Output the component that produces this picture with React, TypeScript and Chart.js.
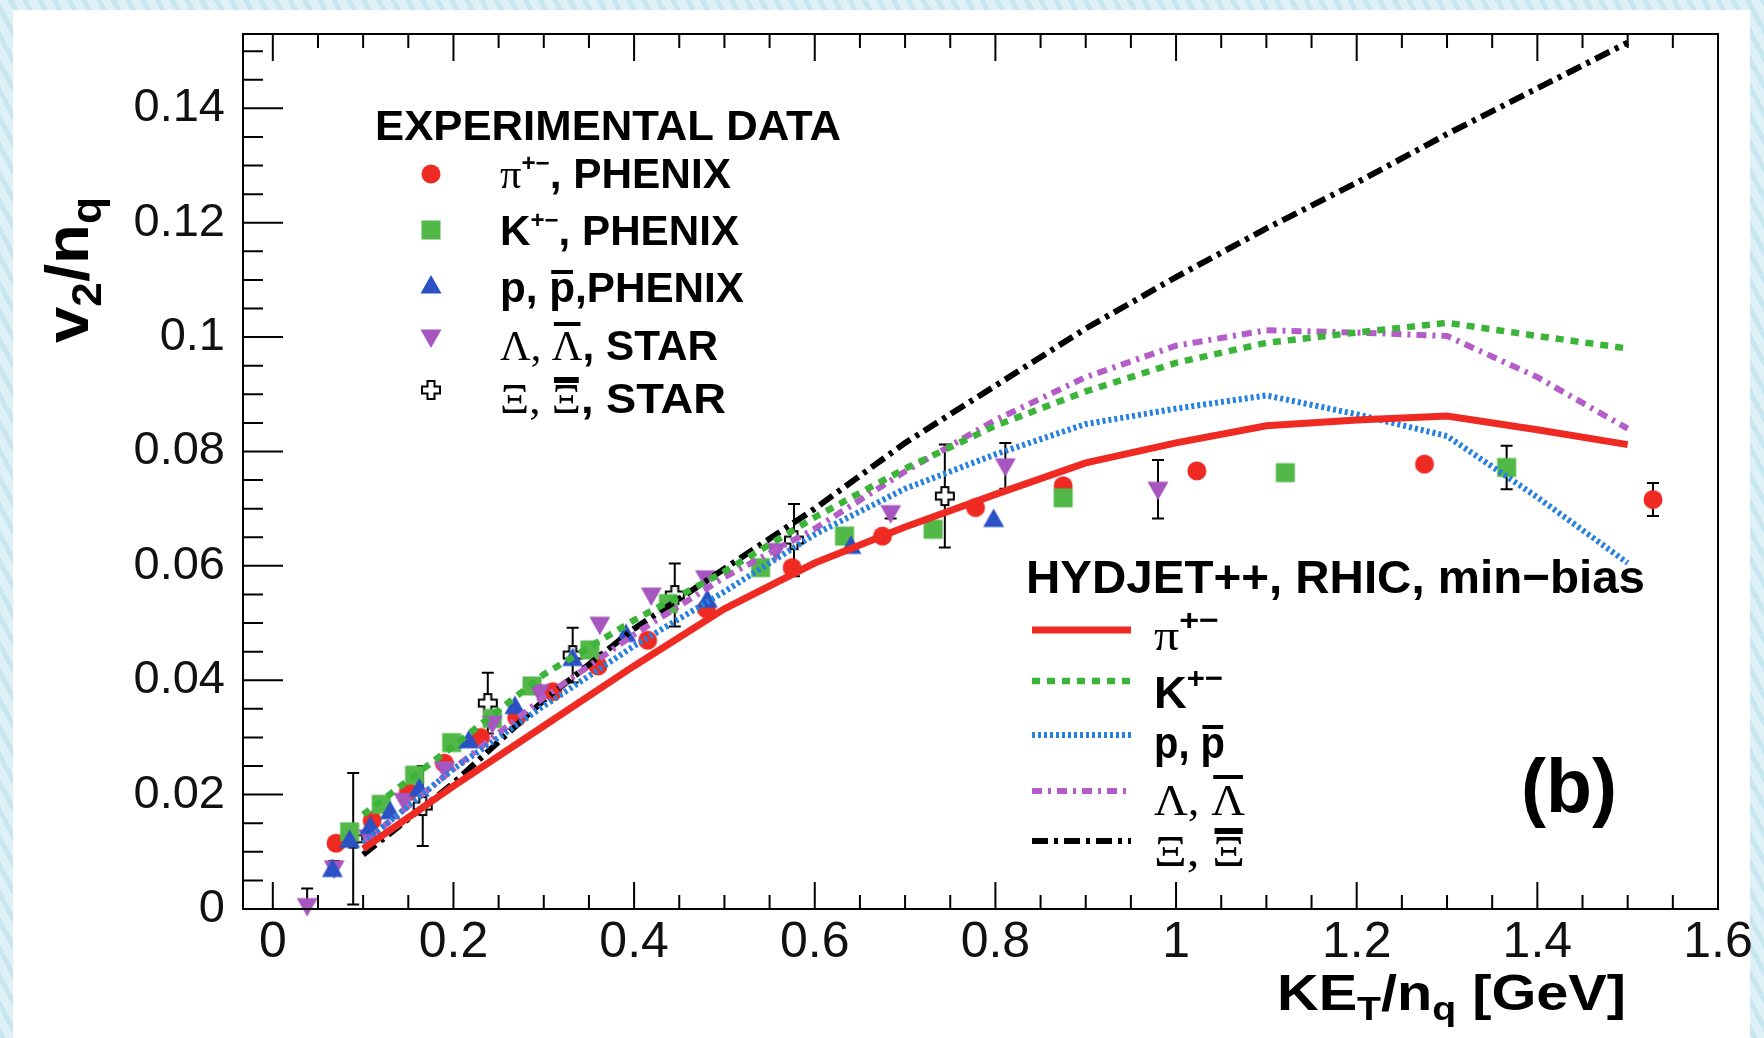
import React, { useEffect, useRef } from 'react';
import { Chart, registerables } from 'chart.js';

Chart.register(...registerables);

// ---------- axes ----------
const X_MIN = -0.033;
const X_MAX = 1.6;
const Y_MIN = 0;
const Y_MAX = 0.153;
const xTickValues = [0, 0.2, 0.4, 0.6, 0.8, 1.0, 1.2, 1.4, 1.6];
const xTickLabels = ['0', '0.2', '0.4', '0.6', '0.8', '1', '1.2', '1.4', '1.6'];
const yTickValues = [0, 0.02, 0.04, 0.06, 0.08, 0.1, 0.12, 0.14];
const yTickLabels = ['0', '0.02', '0.04', '0.06', '0.08', '0.1', '0.12', '0.14'];

// ---------- HYDJET++ model curves ----------
const modelX = [0.1, 0.2, 0.3, 0.4, 0.5, 0.6, 0.7, 0.8, 0.9, 1.0, 1.1, 1.2, 1.3, 1.4, 1.5];
const hydPi = [0.0105, 0.0215, 0.032, 0.0425, 0.0525, 0.0605, 0.0668, 0.0725, 0.078, 0.0815, 0.0845, 0.0855, 0.0862, 0.0838, 0.0812];
const hydK = [0.0165, 0.0285, 0.041, 0.0505, 0.059, 0.0685, 0.077, 0.0845, 0.0905, 0.0955, 0.099, 0.1008, 0.1025, 0.1002, 0.098];
const hydP = [0.0115, 0.0245, 0.0355, 0.046, 0.0555, 0.0655, 0.0735, 0.0795, 0.0848, 0.0875, 0.0898, 0.0865, 0.0827, 0.072, 0.0605];
const hydLam = [0.0115, 0.0245, 0.037, 0.048, 0.058, 0.0665, 0.0765, 0.0855, 0.093, 0.0985, 0.1012, 0.1008, 0.1002, 0.093, 0.084];
const hydXi = [0.0095, 0.022, 0.0365, 0.049, 0.0595, 0.07, 0.0815, 0.0915, 0.1015, 0.1105, 0.119, 0.127, 0.1355, 0.1435, 0.1515];

// ---------- experimental data ----------
const piX = [0.07, 0.11, 0.15, 0.19, 0.23, 0.27, 0.31, 0.36, 0.415, 0.48, 0.575, 0.675, 0.778, 0.875, 1.023, 1.275, 1.528];
const piY = [0.0115, 0.0155, 0.0205, 0.0255, 0.03, 0.0335, 0.038, 0.0425, 0.047, 0.0525, 0.0597, 0.0652, 0.0702, 0.074, 0.0766, 0.0778, 0.0716];
const piErr = [0, 0, 0, 0, 0, 0, 0, 0, 0, 0, 0, 0, 0, 0, 0, 0, 0.0029];

const kX = [0.085, 0.12, 0.157, 0.198, 0.243, 0.287, 0.351, 0.438, 0.54, 0.633, 0.731, 0.875, 1.121, 1.366];
const kY = [0.0135, 0.0183, 0.0234, 0.0291, 0.0333, 0.039, 0.0453, 0.0534, 0.0597, 0.0652, 0.0664, 0.0719, 0.0763, 0.0772];
const kErr = [0, 0, 0, 0, 0, 0, 0, 0, 0, 0, 0, 0, 0.0006, 0.0038];

const pX = [0.066, 0.085, 0.108, 0.13, 0.162, 0.217, 0.268, 0.332, 0.391, 0.481, 0.64, 0.798];
const pY = [0.0069, 0.012, 0.0144, 0.017, 0.021, 0.0294, 0.0354, 0.0438, 0.048, 0.054, 0.0634, 0.0681];
const pErr = [0, 0, 0, 0, 0, 0, 0, 0, 0, 0, 0, 0];

const lamX = [0.038, 0.068, 0.106, 0.145, 0.19, 0.243, 0.295, 0.362, 0.419, 0.479, 0.557, 0.684, 0.811, 0.98];
const lamY = [0.0006, 0.0072, 0.0126, 0.019, 0.0245, 0.0325, 0.038, 0.0498, 0.0549, 0.0579, 0.0627, 0.0693, 0.0775, 0.0734];
const lamErr = [0.003, 0.0012, 0, 0, 0, 0, 0, 0, 0, 0, 0, 0.001, 0.004, 0.0051];

const xiX = [0.089, 0.166, 0.238, 0.332, 0.445, 0.577, 0.744];
const xiY = [0.0123, 0.018, 0.036, 0.0444, 0.0549, 0.0645, 0.0722];
const xiErr = [0.0115, 0.007, 0.0053, 0.0048, 0.0055, 0.0063, 0.009];

// ---------- styles ----------
const RED = '#ee2a22';
const GREEN_M = '#52b848';
const GREEN_L = '#3cb43a';
const BLUE_M = '#2a52c4';
const BLUE_L = '#2580de';
const PURPLE_M = '#a656be';
const PURPLE_L = '#b45cc8';
const SANS = "'Liberation Sans', Arial, Helvetica, sans-serif";
const SERIF = "'Liberation Serif', 'DejaVu Serif', serif";

const DASH_PI: number[] = [];
const DASH_K = [8, 7];
const DASH_P = [3, 3];
const DASH_LAM = [10, 6, 3, 6];
const DASH_XI = [16, 6, 4, 6];
const W_PI = 7;
const W_K = 6.5;
const W_P = 6;
const W_LAM = 6;
const W_XI = 6;

function makeMarker(kind: string, color: string): HTMLCanvasElement {
  const c = document.createElement('canvas');
  c.width = 30;
  c.height = 30;
  const g = c.getContext('2d')!;
  const m = 15;
  g.fillStyle = color;
  if (kind === 'circle') {
    g.beginPath();
    g.arc(m, m, 9.5, 0, Math.PI * 2);
    g.fill();
  } else if (kind === 'square') {
    g.fillRect(m - 9.5, m - 9.5, 19, 19);
  } else if (kind === 'up') {
    g.beginPath();
    g.moveTo(m, m - 11);
    g.lineTo(m + 10.5, m + 7.5);
    g.lineTo(m - 10.5, m + 7.5);
    g.closePath();
    g.fill();
  } else if (kind === 'down') {
    g.beginPath();
    g.moveTo(m, m + 11);
    g.lineTo(m + 10.5, m - 7.5);
    g.lineTo(m - 10.5, m - 7.5);
    g.closePath();
    g.fill();
  } else if (kind === 'cross') {
    const a = 3.5;
    const b = 9;
    g.beginPath();
    g.moveTo(m - a, m - b);
    g.lineTo(m + a, m - b);
    g.lineTo(m + a, m - a);
    g.lineTo(m + b, m - a);
    g.lineTo(m + b, m + a);
    g.lineTo(m + a, m + a);
    g.lineTo(m + a, m + b);
    g.lineTo(m - a, m + b);
    g.lineTo(m - a, m + a);
    g.lineTo(m - b, m + a);
    g.lineTo(m - b, m - a);
    g.lineTo(m - a, m - a);
    g.closePath();
    g.fillStyle = '#fff';
    g.fill();
    g.strokeStyle = '#000';
    g.lineWidth = 2;
    g.stroke();
  }
  return c;
}

type Seg = { t: string; f: string; dy?: number; oh?: number; ot?: number };

function drawRich(ctx: CanvasRenderingContext2D, segs: Seg[], x: number, y: number, targetW?: number, rot = 0) {
  ctx.save();
  ctx.translate(x, y);
  if (rot) ctx.rotate(rot);
  let total = 0;
  const widths = segs.map((s) => {
    ctx.font = s.f;
    const w = ctx.measureText(s.t).width;
    total += w;
    return w;
  });
  const sc = targetW ? targetW / total : 1;
  ctx.scale(sc, 1);
  ctx.textAlign = 'left';
  ctx.textBaseline = 'alphabetic';
  ctx.fillStyle = '#000';
  let cx = 0;
  segs.forEach((s, i) => {
    ctx.font = s.f;
    ctx.fillText(s.t, cx, s.dy || 0);
    if (s.oh) {
      ctx.fillRect(cx + 2, (s.dy || 0) - s.oh, widths[i] - 4, s.ot || 3);
    }
    cx += widths[i];
  });
  ctx.restore();
}

const pts = (xs: number[], ys: number[]) => xs.map((x, i) => ({ x, y: ys[i] }));

export default function App() {
  const ref = useRef<HTMLCanvasElement>(null);

  useEffect(() => {
    const canvas = ref.current;
    if (!canvas) return;

    const mPi = makeMarker('circle', RED);
    const mK = makeMarker('square', GREEN_M);
    const mP = makeMarker('up', BLUE_M);
    const mLam = makeMarker('down', PURPLE_M);
    const mXi = makeMarker('cross', '#000');

    const lineDs = (label: string, ys: number[], color: string, dash: number[], width: number) => ({
      label,
      data: pts(modelX, ys),
      showLine: true,
      borderColor: color,
      backgroundColor: color,
      borderWidth: width,
      borderDash: dash,
      borderCapStyle: 'butt' as const,
      pointRadius: 0,
      tension: 0,
      fill: false,
    });

    const markDs = (label: string, xs: number[], ys: number[], errs: number[], marker: HTMLCanvasElement) => ({
      label,
      data: pts(xs, ys),
      errors: errs,
      showLine: false,
      pointStyle: marker,
      pointRadius: 9,
      clip: false,
    });

    const errorBarPlugin = {
      id: 'errorBars',
      beforeDatasetsDraw(chart: any) {
        const ctx = chart.ctx as CanvasRenderingContext2D;
        const ys = chart.scales.y;
        ctx.save();
        ctx.strokeStyle = '#000';
        ctx.lineWidth = 2;
        chart.data.datasets.forEach((ds: any, i: number) => {
          if (!ds.errors) return;
          const meta = chart.getDatasetMeta(i);
          ds.errors.forEach((e: number, j: number) => {
            if (!e) return;
            const pt = meta.data[j];
            const yv = ds.data[j].y;
            const top = ys.getPixelForValue(yv + e);
            const bot = ys.getPixelForValue(Math.max(0, yv - e));
            ctx.beginPath();
            ctx.moveTo(pt.x, top);
            ctx.lineTo(pt.x, bot);
            ctx.moveTo(pt.x - 6, top);
            ctx.lineTo(pt.x + 6, top);
            ctx.moveTo(pt.x - 6, bot);
            ctx.lineTo(pt.x + 6, bot);
            ctx.stroke();
          });
        });
        ctx.restore();
      },
    };

    const framePlugin = {
      id: 'frameAndText',
      afterDraw(chart: any) {
        const ctx = chart.ctx as CanvasRenderingContext2D;
        const ca = chart.chartArea;
        const xs = chart.scales.x;
        const ys = chart.scales.y;
        ctx.save();
        ctx.strokeStyle = '#000';
        ctx.lineWidth = 2;
        ctx.strokeRect(ca.left, ca.top, ca.right - ca.left, ca.bottom - ca.top);
        ctx.beginPath();
        for (let k = 0; k <= 32; k++) {
          const v = k * 0.05;
          const px = xs.getPixelForValue(v);
          const len = k % 4 === 0 ? 27 : 14;
          ctx.moveTo(px, ca.bottom);
          ctx.lineTo(px, ca.bottom - len);
          ctx.moveTo(px, ca.top);
          ctx.lineTo(px, ca.top + len);
        }
        for (let k = 0; k <= 30; k++) {
          const v = k * 0.005;
          const py = ys.getPixelForValue(v);
          const len = k % 4 === 0 ? 40 : 20;
          ctx.moveTo(ca.left, py);
          ctx.lineTo(ca.left + len, py);
        }
        ctx.stroke();
        ctx.restore();

        // axis titles
        drawRich(ctx, [
          { t: 'v', f: `bold 62px ${SANS}` },
          { t: '2', f: `bold 42px ${SANS}`, dy: 13 },
          { t: '/', f: `bold 62px ${SANS}` },
          { t: 'n', f: `bold 62px ${SANS}` },
          { t: 'q', f: `bold 42px ${SANS}`, dy: 13 },
        ], 88, 343, 146, -Math.PI / 2);

        drawRich(ctx, [
          { t: 'KE', f: `bold 50px ${SANS}` },
          { t: 'T', f: `bold 34px ${SANS}`, dy: 10 },
          { t: '/n', f: `bold 50px ${SANS}` },
          { t: 'q', f: `bold 34px ${SANS}`, dy: 10 },
          { t: ' [GeV]', f: `bold 50px ${SANS}` },
        ], 1277, 1010, 349);

        // experimental legend
        const B42 = `bold 42px ${SANS}`;
        const S42 = `42px ${SERIF}`;
        drawRich(ctx, [{ t: 'EXPERIMENTAL DATA', f: B42 }], 375, 140, 466);
        const mX = 431;
        const markers = [mPi, mK, mP, mLam, mXi];
        const mY = [174, 230, 286, 337, 390];
        markers.forEach((m, i) => ctx.drawImage(m, mX - m.width / 2, mY[i] - m.height / 2));
        drawRich(ctx, [
          { t: 'π', f: S42 },
          { t: '+−', f: `bold 24px ${SANS}`, dy: -17 },
          { t: ', PHENIX', f: B42 },
        ], 500, 188, 231);
        drawRich(ctx, [
          { t: 'K', f: B42 },
          { t: '+−', f: `bold 24px ${SANS}`, dy: -17 },
          { t: ', PHENIX', f: B42 },
        ], 500, 245, 239);
        drawRich(ctx, [
          { t: 'p, ', f: B42 },
          { t: 'p', f: B42, oh: 32, ot: 4 },
          { t: ',PHENIX', f: B42 },
        ], 500, 302, 244);
        drawRich(ctx, [
          { t: 'Λ, ', f: S42 },
          { t: 'Λ', f: S42, oh: 38, ot: 4 },
          { t: ', STAR', f: B42 },
        ], 500, 360, 218);
        drawRich(ctx, [
          { t: 'Ξ, ', f: S42 },
          { t: 'Ξ', f: S42, oh: 36, ot: 6 },
          { t: ', STAR', f: B42 },
        ], 500, 413, 226);

        // HYDJET legend
        drawRich(ctx, [{ t: 'HYDJET++, RHIC, min−bias', f: `bold 47px ${SANS}` }], 1026, 593, 619);
        const lines = [
          { c: RED, d: DASH_PI, w: W_PI },
          { c: GREEN_L, d: DASH_K, w: W_K },
          { c: BLUE_L, d: DASH_P, w: W_P },
          { c: PURPLE_L, d: DASH_LAM, w: W_LAM },
          { c: '#000', d: DASH_XI, w: W_XI },
        ];
        const lY = [630, 681, 735, 791, 841];
        lines.forEach((l, i) => {
          ctx.save();
          ctx.strokeStyle = l.c;
          ctx.lineWidth = l.w;
          ctx.setLineDash(l.d);
          ctx.lineCap = 'butt';
          ctx.beginPath();
          ctx.moveTo(1032, lY[i]);
          ctx.lineTo(1131, lY[i]);
          ctx.stroke();
          ctx.restore();
        });
        const B44 = `bold 44px ${SANS}`;
        const S44 = `44px ${SERIF}`;
        drawRich(ctx, [
          { t: 'π', f: S44 },
          { t: '+−', f: `bold 30px ${SANS}`, dy: -20 },
        ], 1154, 650, 65);
        drawRich(ctx, [
          { t: 'K', f: B44 },
          { t: '+−', f: `bold 30px ${SANS}`, dy: -20 },
        ], 1154, 708, 69);
        drawRich(ctx, [
          { t: 'p, ', f: B44 },
          { t: 'p', f: B44, oh: 33, ot: 4 },
        ], 1154, 758, 71);
        drawRich(ctx, [
          { t: 'Λ, ', f: S44 },
          { t: 'Λ', f: S44, oh: 40, ot: 4 },
        ], 1154, 815, 91);
        drawRich(ctx, [
          { t: 'Ξ, ', f: S44 },
          { t: 'Ξ', f: S44, oh: 38, ot: 6 },
        ], 1154, 866, 91);

        drawRich(ctx, [{ t: '(b)', f: `bold 76px ${SANS}` }], 1521, 812, 96);
      },
    };

    const chart = new Chart(canvas, {
      type: 'scatter',
      data: {
        datasets: [
          lineDs('HYDJET++ π+-', hydPi, RED, DASH_PI, W_PI),
          lineDs('HYDJET++ K+-', hydK, GREEN_L, DASH_K, W_K),
          lineDs('HYDJET++ p', hydP, BLUE_L, DASH_P, W_P),
          lineDs('HYDJET++ Λ', hydLam, PURPLE_L, DASH_LAM, W_LAM),
          lineDs('HYDJET++ Ξ', hydXi, '#000', DASH_XI, W_XI),
          markDs('p, PHENIX', pX, pY, pErr, mP),
          markDs('Λ, STAR', lamX, lamY, lamErr, mLam),
          markDs('K+-, PHENIX', kX, kY, kErr, mK),
          markDs('Ξ, STAR', xiX, xiY, xiErr, mXi),
          markDs('π+-, PHENIX', piX, piY, piErr, mPi),
        ] as any,
      },
      options: {
        responsive: false,
        devicePixelRatio: 1,
        animation: false,
        events: [],
        layout: { padding: { left: 0, right: 46, top: 34, bottom: 0 } },
        plugins: { legend: { display: false }, tooltip: { enabled: false } },
        scales: {
          x: {
            type: 'linear',
            min: X_MIN,
            max: X_MAX,
            grid: { display: false, drawTicks: false },
            border: { display: false },
            afterBuildTicks: (s: any) => {
              s.ticks = xTickValues.map((v) => ({ value: v }));
            },
            afterFit: (s: any) => {
              s.height = 129;
              s.paddingLeft = 0;
              s.paddingRight = 0;
              s.paddingTop = 0;
              s.paddingBottom = 0;
            },
            ticks: {
              autoSkip: false,
              maxRotation: 0,
              minRotation: 0,
              padding: 4,
              color: '#111',
              font: { family: SANS, size: 50 },
              callback: (_v: any, i: number) => xTickLabels[i],
            },
          },
          y: {
            type: 'linear',
            min: Y_MIN,
            max: Y_MAX,
            grid: { display: false, drawTicks: false },
            border: { display: false },
            afterBuildTicks: (s: any) => {
              s.ticks = yTickValues.map((v) => ({ value: v }));
            },
            afterFit: (s: any) => {
              s.width = 243;
              s.paddingLeft = 0;
              s.paddingRight = 0;
              s.paddingTop = 0;
              s.paddingBottom = 0;
            },
            ticks: {
              autoSkip: false,
              padding: 18,
              color: '#111',
              font: { family: SANS, size: 47 },
              callback: (_v: any, i: number) => yTickLabels[i],
            },
          },
        },
      } as any,
      plugins: [errorBarPlugin, framePlugin],
    });

    return () => chart.destroy();
  }, []);

  return (
    <div
      style={{
        position: 'fixed',
        left: 0,
        top: 0,
        width: 1764,
        height: 1038,
        overflow: 'hidden',
        background: 'repeating-linear-gradient(62deg, #c8e6ef 0px, #c8e6ef 5px, #def1f6 5px, #def1f6 13px)',
      }}
    >
      <div style={{ position: 'absolute', left: 13, top: 10, width: 1737, height: 1028, background: '#ffffff' }} />
      <canvas
        ref={ref}
        width={1764}
        height={1038}
        style={{ position: 'absolute', left: 0, top: 0, width: 1764, height: 1038 }}
      />
    </div>
  );
}
